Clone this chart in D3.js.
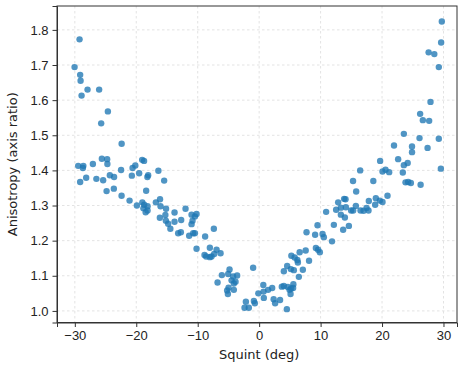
<!DOCTYPE html>
<html lang="en">
<head>
<meta charset="utf-8">
<title>Anisotropy vs squint</title>
<script src="https://d3js.org/d3.v7.min.js"></script>
<style>
  body { margin: 0; background: #fff; }
  svg { display: block; font-family: "DejaVu Sans", sans-serif; }
  .grid line { stroke: #e3e3e3; stroke-dasharray: 2.5,2.5; }
  .axis text { font-size: 13px; fill: #222; }
  .axis line, .axis path { stroke: #333; }
</style>
</head>
<body>
<script>
// squint angle (deg) and anisotropy (axis ratio)
var squint = [
  -30.04, -29.23, -29.13, -29.06, -28.90, -27.93, -26.04, -25.71, -24.62, -22.38,
  -29.45, -28.61, -28.69, -27.06, -25.60, -24.74, -24.70, -22.47, -20.60, -20.15,
  -19.04, -18.73, -19.53, -16.40, -29.13, -28.15, -26.49, -25.39, -24.30, -23.61,
  -20.72, -18.19, -18.06, -15.46, -24.83, -23.65, -22.39, -21.09, -19.90, -19.01,
  -18.71, -18.16, -18.84, -18.16, -18.47, -18.39, -16.81, -16.13, -16.05, -15.15,
  -16.16, -15.26, -15.18, -14.81, -14.45, -13.77, -13.77, -12.69, -11.98, -13.18,
  -12.74, -11.39, -11.00, -10.19, -10.46, -10.84, -11.00, -10.74, -10.46, -10.19,
  -8.79, -7.37, -8.89, -8.62, -8.02, -7.75, -8.02, -7.32, -6.93, -6.28,
  -6.77, -6.07, -4.82, -5.04, -4.23, -3.58, -4.49, -3.84, -4.12, -4.98,
  -4.12, -5.21, -5.09, -0.98, -2.16, -0.86, -0.70, -2.38, -1.68, -0.13,
  0.68, 0.72, 0.76, 1.46, 2.12, 2.36, 2.60, 3.40, 3.69, 4.02,
  4.51, 4.67, 4.95, 5.21, 5.11, 5.57, 5.53, 4.02, 4.56, 5.16,
  5.24, 5.78, 5.65, 6.22, 6.59, 6.30, 6.46, 7.11, 7.57, 8.12,
  7.71, 9.11, 9.50, 9.23, 9.60, 9.88, 10.32, 10.53, 11.86, 10.90,
  12.16, 12.53, 12.86, 13.30, 13.67, 13.30, 14.11, 14.60, 14.97, 15.30,
  13.83, 14.06, 15.74, 16.50, 16.99, 17.48, 17.80, 17.85, 18.88, 18.99,
  19.64, 20.08, 20.89, 13.95, 15.79, 15.28, 18.58, 16.44, 20.08, 20.57,
  21.16, 19.69, 22.62, 21.95, 23.38, 23.55, 24.17, 23.55, 24.88, 24.88,
  23.82, 24.25, 24.69, 26.28, 26.10, 27.41, 29.24, 29.57, 26.64, 27.67,
  26.20, 27.89, 29.24, 27.58, 28.51, 29.62, 29.73
];
var anisotropy = [
  1.694, 1.773, 1.672, 1.655, 1.613, 1.630, 1.630, 1.534, 1.568, 1.476,
  1.413, 1.413, 1.407, 1.418, 1.433, 1.432, 1.418, 1.401, 1.407, 1.414,
  1.430, 1.427, 1.392, 1.399, 1.367, 1.379, 1.376, 1.372, 1.386, 1.381,
  1.385, 1.381, 1.386, 1.371, 1.341, 1.348, 1.328, 1.314, 1.300, 1.309,
  1.302, 1.298, 1.292, 1.286, 1.281, 1.342, 1.309, 1.318, 1.298, 1.291,
  1.265, 1.273, 1.257, 1.248, 1.234, 1.280, 1.254, 1.259, 1.291, 1.221,
  1.224, 1.214, 1.274, 1.276, 1.269, 1.257, 1.247, 1.221, 1.221, 1.177,
  1.212, 1.234, 1.159, 1.155, 1.153, 1.155, 1.180, 1.162, 1.174, 1.164,
  1.081, 1.102, 1.118, 1.105, 1.098, 1.101, 1.087, 1.083, 1.078, 1.066,
  1.060, 1.058, 1.048, 1.123, 1.026, 1.028, 1.022, 1.009, 1.009, 1.050,
  1.074, 1.055, 1.037, 1.060, 1.065, 1.033, 1.022, 1.031, 1.069, 1.071,
  1.005, 1.068, 1.060, 1.064, 1.048, 1.076, 1.065, 1.113, 1.128, 1.119,
  1.157, 1.152, 1.116, 1.145, 1.167, 1.138, 1.097, 1.117, 1.172, 1.143,
  1.224, 1.217, 1.244, 1.179, 1.174, 1.167, 1.219, 1.210, 1.198, 1.282,
  1.245, 1.288, 1.309, 1.274, 1.231, 1.294, 1.295, 1.242, 1.286, 1.286,
  1.319, 1.318, 1.299, 1.286, 1.285, 1.293, 1.286, 1.313, 1.302, 1.321,
  1.314, 1.310, 1.328, 1.266, 1.340, 1.370, 1.370, 1.400, 1.397, 1.402,
  1.395, 1.427, 1.432, 1.471, 1.394, 1.415, 1.421, 1.504, 1.468, 1.452,
  1.366, 1.367, 1.364, 1.359, 1.492, 1.464, 1.490, 1.405, 1.543, 1.541,
  1.561, 1.595, 1.694, 1.736, 1.731, 1.764, 1.824
];
var xTicks = [-30, -20, -10, 0, 10, 20, 30];
var yTicks = [1.0, 1.1, 1.2, 1.3, 1.4, 1.5, 1.6, 1.7, 1.8];

var w = 458, h = 367;
var margin = {top: 6, right: 1, bottom: 44.5, left: 57};
var iw = w - margin.left - margin.right;
var ih = h - margin.top - margin.bottom;

var svg = d3.select("body").append("svg")
    .attr("width", w)
    .attr("height", h);

var g = svg.append("g")
    .attr("transform", "translate(" + margin.left + "," + margin.top + ")");

var x = d3.scaleLinear().domain([-32.9, 32.2]).range([0, iw]);
var y = d3.scaleLinear().domain([0.967, 1.868]).range([ih, 0]);

// grid
var grid = g.append("g").attr("class", "grid");
grid.selectAll(".gx").data(xTicks).enter().append("line")
    .attr("x1", function(d) { return x(d); })
    .attr("x2", function(d) { return x(d); })
    .attr("y1", 0).attr("y2", ih);
grid.selectAll(".gy").data(yTicks).enter().append("line")
    .attr("y1", function(d) { return y(d); })
    .attr("y2", function(d) { return y(d); })
    .attr("x1", 0).attr("x2", iw);

// points
var pts = squint.map(function(s, i) { return [s, anisotropy[i]]; });
g.selectAll("circle").data(pts).enter().append("circle")
    .attr("cx", function(d) { return x(d[0]); })
    .attr("cy", function(d) { return y(d[1]); })
    .attr("r", 3.2)
    .style("fill", "#1f77b4")
    .style("fill-opacity", 0.78);

// axes
var minus = function(d) { return d < 0 ? "\u2212" + Math.abs(d) : d; };
g.append("g").attr("class", "axis")
    .attr("transform", "translate(0," + ih + ")")
    .call(d3.axisBottom(x).tickValues(xTicks).tickFormat(minus).tickSizeOuter(0).tickSize(4.5).tickPadding(4));
g.append("g").attr("class", "axis")
    .call(d3.axisLeft(y).tickValues(yTicks).tickFormat(d3.format(".1f")).tickSizeOuter(0).tickSize(4.5).tickPadding(4));

// frame
g.append("rect")
    .attr("width", iw).attr("height", ih)
    .style("fill", "none").style("stroke", "#333").style("stroke-width", 1);

// labels
svg.append("text")
    .attr("x", margin.left + x(0))
    .attr("y", 359)
    .attr("text-anchor", "middle")
    .style("font-size", "13px").style("fill", "#222")
    .text("Squint (deg)");
svg.append("text")
    .attr("transform", "translate(17," + (margin.top + ih / 2) + ") rotate(-90)")
    .attr("text-anchor", "middle")
    .style("font-size", "13px").style("fill", "#222")
    .text("Anisotropy (axis ratio)");
</script>
</body>
</html>
